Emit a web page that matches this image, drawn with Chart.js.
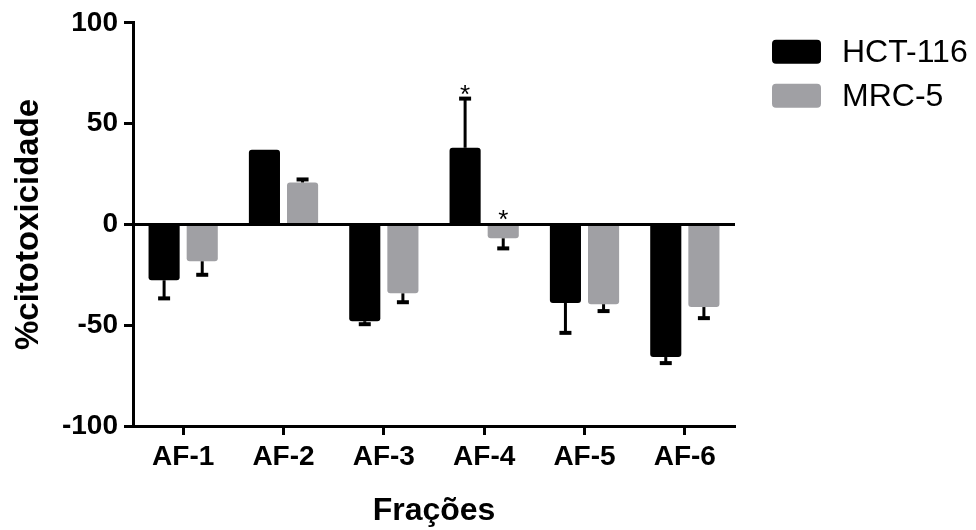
<!DOCTYPE html>
<html>
<head>
<meta charset="utf-8">
<script src="https://cdn.jsdelivr.net/npm/chart.js@4.4.0/dist/chart.umd.min.js"></script>
<style>
  html, body { margin: 0; padding: 0; background: #fff; }
  #wrap { width: 976px; height: 530px; }
</style>
</head>
<body>
<div id="wrap"><canvas id="grafico" width="976" height="530"></canvas></div>
<script>
const fracoes = ["AF-1", "AF-2", "AF-3", "AF-4", "AF-5", "AF-6"];
const series = ["HCT-116", "MRC-5"];
const hct116 = [-27.7, 37, -48, 38, -39, -65.8];
const hct116Erro = [9, 0, 1.5, 24.4, 14.8, 3];
const mrc5 = [-18.3, 20.8, -34.2, -6.9, -39.6, -41];
const mrc5Erro = [6.7, 1.5, 4.4, 5, 3.4, 5.5];
const hct116Sig = ["", "", "", "*", "", ""];
const mrc5Sig = ["", "", "", "*", "", ""];
const yTicks = [-100, -50, 0, 50, 100];

const fonte = "'Liberation Sans', Arial, Helvetica, sans-serif";

const extras = {
  id: "extras",
  afterDatasetsDraw(chart) {
    const ctx = chart.ctx;
    const y = chart.scales.y;
    const area = chart.chartArea;
    const y0 = y.getPixelForValue(0);
    ctx.save();
    ctx.strokeStyle = "#000";
    ctx.fillStyle = "#000";

    // linha do zero por cima das barras
    ctx.lineWidth = 3;
    ctx.beginPath();
    ctx.moveTo(area.left, y0);
    ctx.lineTo(area.right, y0);
    ctx.stroke();

    chart.data.datasets.forEach((ds, i) => {
      const meta = chart.getDatasetMeta(i);
      meta.data.forEach((bar, j) => {
        const v = ds.data[j];
        const e = ds.erros[j];
        const sinal = v < 0 ? -1 : 1;
        const yFim = y.getPixelForValue(v);
        const yCap = y.getPixelForValue(v + sinal * e);
        if (e > 0) {
          ctx.lineWidth = 3;
          ctx.beginPath();
          ctx.moveTo(bar.x, yFim);
          ctx.lineTo(bar.x, yCap);
          ctx.stroke();
          ctx.lineWidth = 4;
          ctx.beginPath();
          ctx.moveTo(bar.x - 6, yCap);
          ctx.lineTo(bar.x + 6, yCap);
          ctx.stroke();
        }
        if (ds.sig[j]) {
          const topo = Math.min(y0, yCap, yFim);
          ctx.font = "26px " + fonte;
          ctx.textAlign = "center";
          ctx.textBaseline = "alphabetic";
          ctx.fillText(ds.sig[j], bar.x, topo + 4);
        }
      });
    });

    // legenda
    chart.data.datasets.forEach((ds, i) => {
      const bx = area.right + 37;
      const by = area.top + 17 + i * 44;
      ctx.fillStyle = ds.backgroundColor;
      ctx.beginPath();
      ctx.roundRect(bx, by, 49, 24, 4);
      ctx.fill();
      ctx.fillStyle = "#000";
      ctx.font = "32px " + fonte;
      ctx.textAlign = "left";
      ctx.textBaseline = "middle";
      ctx.fillText(ds.label, bx + 70, by + 13);
    });
    ctx.restore();
  },
};

const dataBarra = {
  labels: fracoes,
  datasets: [
    {
      label: series[0],
      data: hct116,
      erros: hct116Erro,
      sig: hct116Sig,
      backgroundColor: "#000000",
      borderRadius: 3,
      categoryPercentage: 0.76,
      barPercentage: 0.816,
    },
    {
      label: series[1],
      data: mrc5,
      erros: mrc5Erro,
      sig: mrc5Sig,
      backgroundColor: "#a0a0a4",
      borderRadius: 3,
      categoryPercentage: 0.76,
      barPercentage: 0.816,
    },
  ],
};

const configBarra = {
  type: "bar",
  data: dataBarra,
  options: {
    responsive: false,
    animation: false,
    layout: { padding: { top: 22, right: 241, bottom: 0, left: 0 } },
    plugins: {
      legend: { display: false },
      tooltip: { enabled: false },
    },
    scales: {
      x: {
        grid: {
          drawOnChartArea: false,
          drawTicks: true,
          tickLength: 9,
          tickWidth: 3,
          tickColor: "#000",
          offset: false,
        },
        border: { display: true, color: "#000", width: 3 },
        ticks: {
          color: "#000",
          padding: 5,
          maxRotation: 0,
          font: { family: fonte, size: 28, weight: "bold" },
        },
        title: {
          display: true,
          text: "Frações",
          color: "#000",
          padding: { top: 4, bottom: 0 },
          font: { family: fonte, size: 32, weight: "bold", lineHeight: 1.2 },
        },
        afterFit: (s) => { s.height = 104; },
      },
      y: {
        min: -100,
        max: 100,
        afterBuildTicks: (s) => { s.ticks = yTicks.map((v) => ({ value: v })); },
        grid: {
          drawOnChartArea: false,
          drawTicks: true,
          tickLength: 9,
          tickWidth: 3,
          tickColor: "#000",
        },
        border: { display: true, color: "#000", width: 3 },
        ticks: {
          color: "#000",
          padding: 6,
          font: { family: fonte, size: 28, weight: "bold" },
        },
        title: {
          display: true,
          text: "%citotoxicidade",
          color: "#000",
          padding: { top: 9, bottom: 0 },
          font: { family: fonte, size: 33, weight: "bold", lineHeight: 1.2 },
        },
        afterFit: (s) => { s.width = 133; },
      },
    },
  },
  plugins: [extras],
};

const grafico = new Chart(document.getElementById("grafico"), configBarra);
</script>
</body>
</html>
